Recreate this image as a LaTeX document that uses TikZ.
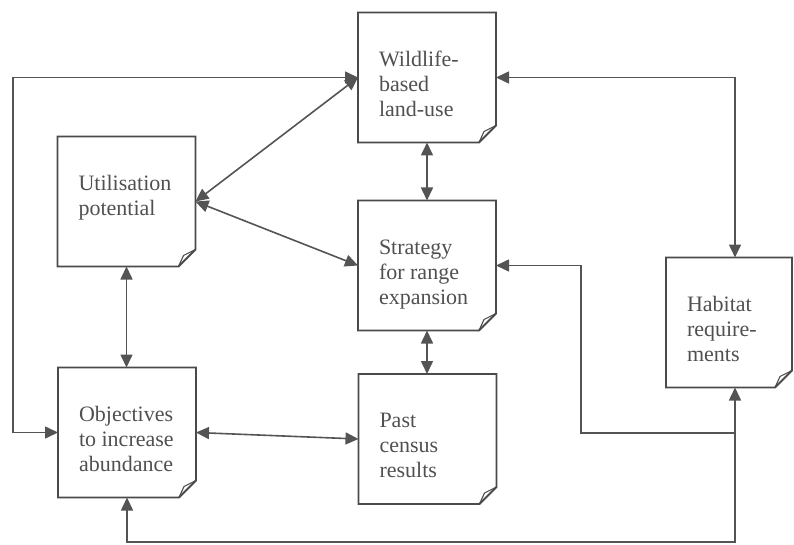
\documentclass[tikz,border=0pt]{standalone}
\usepackage{fontspec}
\setmainfont{Liberation Serif}
\usetikzlibrary{arrows.meta}
\definecolor{ink}{HTML}{4A4A4A}
\definecolor{wirec}{HTML}{545454}
\definecolor{txtc}{HTML}{505050}
\begin{document}
\begin{tikzpicture}[x=1pt,y=-1pt,
  card/.style={draw=none,inner sep=0pt,outer sep=0pt,minimum width=138pt,minimum height=130pt},
  cardtext/.style={anchor=north west,inner sep=0pt,outer sep=0pt,align=left,text=txtc,
    font=\fontsize{22}{25}\selectfont},
  boxline/.style={draw=ink,line width=1.8pt,line join=miter},
  foldline/.style={draw=ink,line width=1.1pt,line join=round},
  wire/.style={draw=wirec,line width=1.6pt},
  both/.style={wire,{Triangle[length=13pt,width=12pt]}-{Triangle[length=13pt,width=12pt]}},
  tip/.style={wire,-{Triangle[length=13pt,width=12pt]}}
]
\useasboundingbox (0,0) rectangle (794,545);

% cards
\node[card] (w) at (427,77.5) {};
\node[card] (u) at (126.5,201.5) {};
\node[card] (s) at (427,265.5) {};
\node[card] (o) at (127,432.5) {};
\node[card] (p) at (427.5,439) {};
\node[card,minimum width=126pt] (h) at (729,322.5) {};

% outlines with a turned-down corner
\foreach \n in {w,u,s,o,p,h}{
  \draw[boxline] (\n.north west) -- (\n.north east) -- ([yshift=17pt]\n.south east)
    -- ([xshift=-17pt]\n.south east) -- (\n.south west) -- cycle;
  \draw[foldline] ([xshift=-17pt]\n.south east) -- ([xshift=-12pt,yshift=11pt]\n.south east)
    -- ([yshift=17pt]\n.south east);
}

% card texts
\node[cardtext] (wt) at ([xshift=21pt,yshift=-39pt]w.north west) {Wildlife-\\based\\land-use};
\node[cardtext] (ut) at ([xshift=21pt,yshift=-39pt]u.north west) {Utilisation\\potential};
\node[cardtext] (st) at ([xshift=21pt,yshift=-39pt]s.north west) {Strategy\\for range\\expansion};
\node[cardtext] (ot) at ([xshift=21pt,yshift=-39pt]o.north west) {Objectives\\to increase\\abundance};
\node[cardtext] (pt) at ([xshift=21pt,yshift=-39pt]p.north west) {Past\\census\\results};
\node[cardtext] (ht) at ([xshift=21pt,yshift=-39pt]h.north west) {Habitat\\require-\\ments};

% routing points
\coordinate (lx) at (13,0);
\coordinate (sx) at (581,0);
\coordinate (by) at (0,542);
\coordinate (htop) at ([xshift=6pt]h.north);
\coordinate (hbot) at ([xshift=6pt]h.south);
\coordinate (jn) at (735,433);

% connectors
\draw[both] (w.west) -- (w.west -| lx) -- (o.west -| lx) -- (o.west);
\draw[both] (w.east) -- (w.east -| htop) -- (htop);
\draw[both] (w.south) -- (w.south |- s.north);
\draw[both] (s.south) -- (s.south |- p.north);
\draw[both] (u.south) -- (u.south |- o.north);
\draw[both] (u.east) -- (w.west);
\draw[both] (u.east) -- (s.west);
\draw[both] (o.east) -- (p.west);
\draw[tip] (jn) -- (jn -| sx) -- (s.east -| sx) -- (s.east);
\draw[both] (o.south) -- (o.south |- by) -- (by -| hbot) -- (hbot);
\end{tikzpicture}
\end{document}
